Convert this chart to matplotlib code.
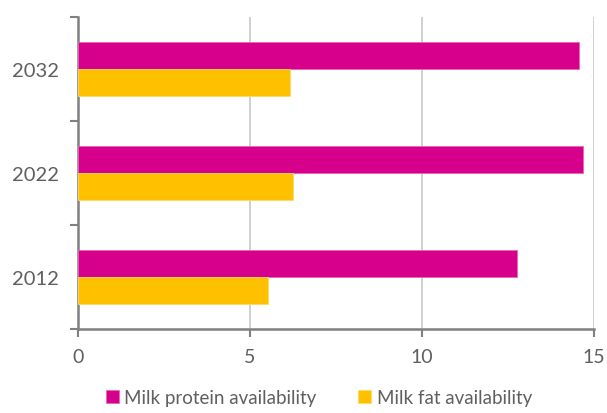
import matplotlib
matplotlib.use('Agg')
import matplotlib.pyplot as plt
import numpy as np

years = ['2012', '2022', '2032']
protein = [12.77, 14.67, 14.56]
fat = [5.51, 6.25, 6.16]

magenta = '#D6008D'
yellow = '#FFC000'
grey_txt = '#5F5F5F'

plt.rcParams['font.family'] = ['Lato', 'DejaVu Sans']

fig = plt.figure(figsize=(6.07, 4.14), dpi=100)
ax = fig.add_axes([0.1285, 0.2029, 0.85, 0.7536])

y = np.arange(len(years))
h = 0.2625
ax.barh(y + h / 2, protein, height=h, color=magenta, edgecolor='#E866B5',
        linewidth=0.6, label='Milk protein availability', zorder=3)
ax.barh(y - h / 2, fat, height=h, color=yellow, edgecolor='#FFD966',
        linewidth=0.6, label='Milk fat availability', zorder=3)

ax.set_xlim(0, 15)
ax.set_ylim(-0.5, 2.5)
ax.set_xticks([0, 5, 10, 15])
ax.grid(axis='x', color='#C8C8C8', linewidth=1.2, zorder=0)

# category boundaries as ticks, labels in the middle
ax.set_yticks(np.arange(-0.5, 3, 1))
ax.set_yticklabels([])
ax.set_yticks(y, minor=True)
ax.set_yticklabels(years, minor=True)
ax.tick_params(axis='y', which='minor', length=0, pad=14)
ax.tick_params(axis='y', which='major', length=6, width=1.5, color='#808080')
ax.tick_params(axis='x', length=6, width=1.5, color='#808080', pad=8)
for lab in ax.get_xticklabels():
    lab.set_fontsize(14)
    lab.set_color(grey_txt)
for lab in ax.get_yticklabels(minor=True):
    lab.set_fontsize(14.5)
    lab.set_color(grey_txt)

for s in ['top', 'right']:
    ax.spines[s].set_visible(False)
for s in ['left', 'bottom']:
    ax.spines[s].set_color('#808080')
    ax.spines[s].set_linewidth(1.8)

handles, labels = ax.get_legend_handles_labels()
leg = fig.legend(handles, labels, loc='lower center', bbox_to_anchor=(0.525, -0.025),
                 ncol=2, frameon=False, fontsize=13.5, handlelength=0.7,
                 handleheight=0.7, handletextpad=0.3, columnspacing=2.2)
for t in leg.get_texts():
    t.set_color(grey_txt)

fig.savefig('out.png', dpi=100)
